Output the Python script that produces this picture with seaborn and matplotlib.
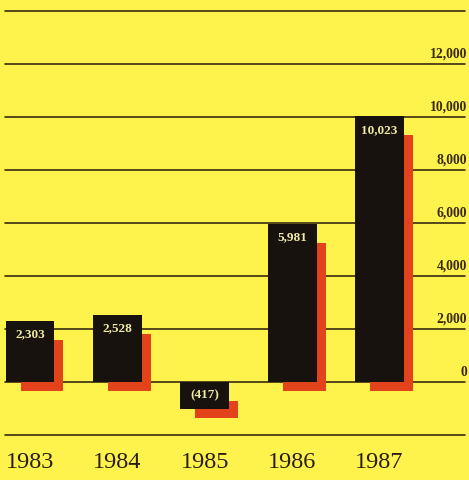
import matplotlib
matplotlib.use("Agg")
import matplotlib.pyplot as plt
from matplotlib.patches import Rectangle
import seaborn as sns
import pandas as pd

# Annual results
years = ["1983", "1984", "1985", "1986", "1987"]
values = [2303, 2528, -417, 5981, 10023]
value_labels = ["2,303", "2,528", "(417)", "5,981", "10,023"]
grid_values = list(range(-2000, 14001, 2000))
tick_values = [0, 2000, 4000, 6000, 8000, 10000, 12000]
tick_labels = ["0", "2,000", "4,000", "6,000", "8,000", "10,000", "12,000"]

YELLOW = "#fdf34c"
BAR = "#17120d"
SHADOW = "#e2431b"
INK = "#3a2a12"
LABEL = "#f1e9a6"

sns.set_theme(style="white")
plt.rcParams["font.family"] = ["Liberation Serif", "DejaVu Serif"]

fig = plt.figure(figsize=(4.69, 4.80), dpi=100, facecolor=YELLOW)
ax = fig.add_axes([0, 0, 1, 1])
ax.set_facecolor(YELLOW)

df = pd.DataFrame({"year": years, "value": values})
bar_width = 0.56
sns.barplot(data=df, x="year", y="value", color=BAR, saturation=1,
            width=bar_width, linewidth=0, ax=ax, zorder=3)

# scale: 87.4 px per category, 53 px per 2,000
px_x = 87.4
px_y = 53 / 2000
ax.set_xlim(-30 / px_x, (469 - 30) / px_x)
ax.set_ylim(-(480 - 382) / px_y, 382 / px_y)
ax.set_axis_off()

# horizontal rules
for g in grid_values:
    ax.axhline(g, xmin=5 / 469, xmax=465 / 469, color=INK, lw=1.2, zorder=1)

# scale labels at right, sitting just above their rule
for v, lab in zip(tick_values, tick_labels):
    ax.annotate(lab, xy=(467 / 469, v), xycoords=("axes fraction", "data"),
                xytext=(0, 2.5), textcoords="offset points",
                ha="right", va="bottom", fontsize=9.8, color=INK, fontweight="bold")

neg_box = 16 / px_y  # depth of label box under a negative bar
for i, (v, lab) in enumerate(zip(values, value_labels)):
    top = max(v, 0)
    bottom = min(v, 0)
    if v < 0:
        # extend the black box so the label fits below the bar
        ax.add_patch(Rectangle((i - bar_width / 2, bottom - neg_box),
                               bar_width, neg_box, color=BAR, lw=0, zorder=3))
        bottom = bottom - neg_box
    # offset red shadow behind each bar
    sx0 = i - bar_width / 2 + 15 / px_x
    sx1 = i + bar_width / 2 + 9 / px_x
    st = top - 19 / px_y
    sb = bottom - 9 / px_y
    ax.add_patch(Rectangle((sx0, sb), sx1 - sx0, st - sb, color=SHADOW, lw=0, zorder=2))
    # value label near top of the black box
    ax.annotate(lab, xy=(i, top), xytext=(0, -5.5), textcoords="offset points",
                ha="center", va="top", fontsize=9.5, color=LABEL, fontweight="bold",
                zorder=4)

# year labels
for i, y in enumerate(years):
    ax.text(i, -(463 - 382) / px_y, y, ha="center", va="center",
            fontsize=17.5, color="#2a1d10")

fig.savefig("out.png", dpi=100, facecolor=YELLOW)
